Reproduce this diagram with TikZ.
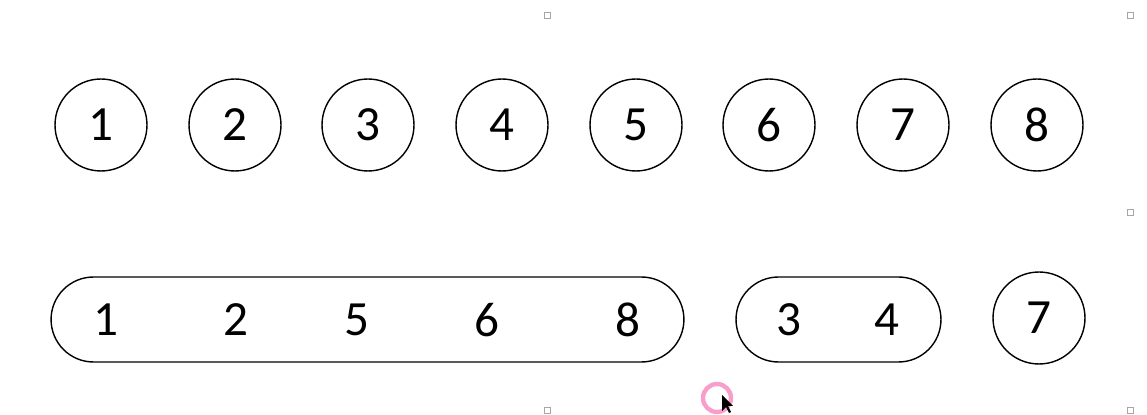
\documentclass[tikz,border=0pt]{standalone}
\usepackage{fontspec}
\setmainfont{Carlito}
\usetikzlibrary{shapes.misc}

\tikzset{
  elem/.style={draw,circle,line width=0.8pt,minimum size=1.84cm,inner sep=0pt,font=\fontsize{28}{33}\selectfont},
  pill/.style={draw,rounded rectangle,line width=0.8pt,minimum height=1.7cm,inner sep=0pt},
  lbl/.style={font=\fontsize{28}{33}\selectfont,inner sep=0pt},
  handle/.style={draw=black!35,line width=0.4pt}
}

\begin{document}
\begin{tikzpicture}[x=0.02cm,y=-0.02cm]
   \useasboundingbox (0,0) rectangle (1147,415);
   % ligne du haut
   \foreach \n/\x in {1/101,2/235,3/368,4/502,5/636,6/769,7/903,8/1037}{
     \node[elem] (t\n) at (\x,125) {\n};
   }
   % ligne du bas
   \node[pill,minimum width=12.66cm] (ga) at (367.5,319.5) {};
   \node[pill,minimum width=4.1cm] (gb) at (838.5,319.5) {};
   \foreach \n/\x in {1/106,2/236,5/357,6/487,8/628}{
     \node[lbl] (ba\n) at (\x,320) {\n};
   }
   \foreach \n/\x in {3/789,4/887}{
     \node[lbl] (bb\n) at (\x,320) {\n};
   }
   \node[elem] (b7) at (1039,318) {7};
   % poignees
   \foreach \x/\y in {547/15,1130/15,1130/212,547/410,1130/410}{
     \draw[handle] (\x-3,\y-3) rectangle (\x+3,\y+3);
   }
   % curseur
   \draw[magenta!60!pink,line width=2.5pt,opacity=0.55] (717,398) circle (14);
   \fill[black] (722,395) -- (722,411) -- (726,407) -- (729,413) -- (731,412) -- (728,406) -- (733,406) -- cycle;
\end{tikzpicture}
\end{document}
